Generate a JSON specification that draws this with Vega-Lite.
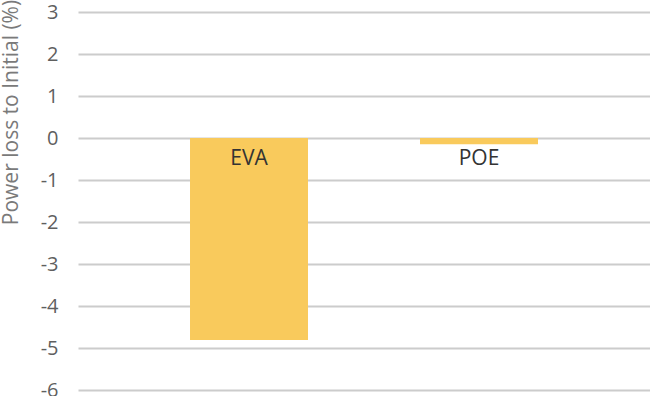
{
  "$schema": "https://vega.github.io/schema/vega-lite/v6.json",
  "autosize": "none",
  "width": 572,
  "height": 378,
  "padding": {"left": 78, "top": 12, "right": 0, "bottom": 6},
  "background": "white",
  "config": {"view": {"stroke": null}, "font": "Open Sans"},
  "data": {"values": [
    {"material": "EVA", "loss": -4.81},
    {"material": "POE", "loss": -0.15}
  ]},
  "encoding": {
    "x": {"field": "material", "type": "nominal", "axis": null,
          "scale": {"paddingInner": 0.487, "paddingOuter": 0.487}, "sort": null}
  },
  "layer": [
    {
      "mark": {"type": "bar", "color": "#F9CA5C"},
      "encoding": {
        "y": {"field": "loss", "type": "quantitative",
              "scale": {"domain": [-6, 3], "nice": false, "zero": true},
              "axis": {
                "title": "Power loss to Initial (%)",
                "values": [-6, -5, -4, -3, -2, -1, 0, 1, 2, 3],
                "labelExpr": "'' + datum.value",
                "domain": false, "ticks": false,
                "grid": true, "gridColor": "#cccccc", "gridWidth": 2,
                "labelFontSize": 20, "labelColor": "#5f5f5f", "labelPadding": 20,
                "labelFont": "Open Sans",
                "titleFont": "Open Sans", "titleFontSize": 21, "titleFontWeight": "normal",
                "titleColor": "#7a7a7a", "titleX": -67, "titleY": 100,
                "titleAlign": "center", "titleBaseline": "middle", "titleAngle": -90
              }}
      }
    },
    {
      "mark": {"type": "text", "fontSize": 21, "color": "#333333", "baseline": "middle", "dy": 21, "font": "Open Sans"},
      "encoding": {
        "y": {"datum": 0, "type": "quantitative"},
        "text": {"field": "material"}
      }
    }
  ]
}
